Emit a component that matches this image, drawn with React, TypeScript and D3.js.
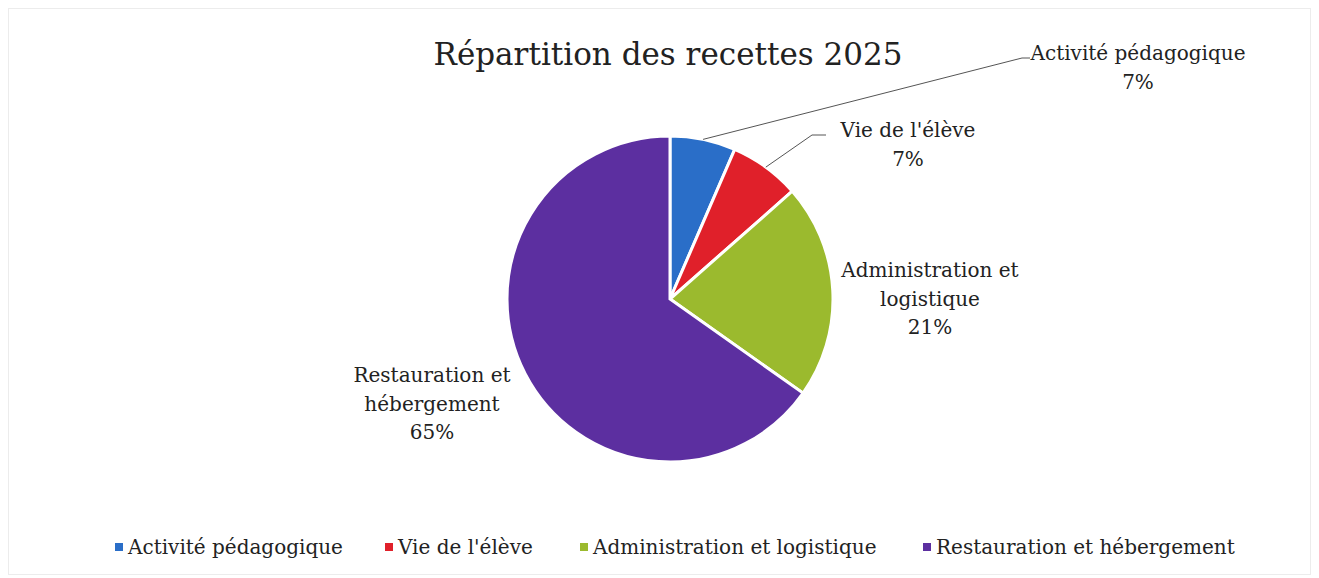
import { useRef, useEffect } from "react";
import * as d3 from "d3";

// Chart data
const categories = [
  "Activité pédagogique",
  "Vie de l'élève",
  "Administration et logistique",
  "Restauration et hébergement",
];
const shares = [6.5, 7.0, 21.3, 65.2];
const colors = ["#2a6ec8", "#e0202a", "#9bba2e", "#5c2fa0"];
const labelLines = [
  ["Activité pédagogique"],
  ["Vie de l'élève"],
  ["Administration et", "logistique"],
  ["Restauration et", "hébergement"],
];

export default function App() {
  const ref = useRef<SVGSVGElement>(null);

  // Chart attributes
  const chartAttr = {
    width: 1319,
    height: 578,
    cx: 670,
    cy: 299,
    radius: 163,
    font: "'DejaVu Serif', serif",
  };

  // where each data label sits (text centre, first line baseline), and leader elbow
  const labelPos = [
    { x: 1138, y: 60, elbow: [1022, 58], end: 1030 },
    { x: 908, y: 137, elbow: [812, 135], end: 826 },
    { x: 930, y: 277, elbow: null, end: 0 },
    { x: 432, y: 382, elbow: null, end: 0 },
  ];

  useEffect(() => {
    const svg = d3.select(ref.current)
      .attr("width", chartAttr.width)
      .attr("height", chartAttr.height);
    svg.selectAll("*").remove();

    const data = categories.map((c, i) => ({ name: c, value: shares[i], i }));

    const pie = d3.pie<any>().sort(null).value(d => d.value);
    const arc = d3.arc<any>().innerRadius(0).outerRadius(chartAttr.radius);
    const edgeArc = d3.arc<any>().innerRadius(chartAttr.radius).outerRadius(chartAttr.radius);
    const arcs = pie(data);

    // faint frame
    svg.append("rect")
      .attr("x", 8.5).attr("y", 8.5)
      .attr("width", chartAttr.width - 17).attr("height", chartAttr.height - 12)
      .attr("fill", "none").attr("stroke", "#ececec");

    // title
    svg.append("text")
      .attr("x", 668).attr("y", 65)
      .attr("text-anchor", "middle")
      .attr("font-family", chartAttr.font)
      .attr("font-size", 31)
      .attr("fill", "#222")
      .text("Répartition des recettes 2025");

    const g = svg.append("g")
      .attr("transform", `translate(${chartAttr.cx},${chartAttr.cy})`);

    g.selectAll("path.slice")
      .data(arcs)
      .enter()
      .append("path")
      .attr("class", "slice")
      .attr("d", arc)
      .attr("fill", d => colors[d.data.i])
      .attr("stroke", "#fff")
      .attr("stroke-width", 3);

    // leader lines
    arcs.forEach((a, i) => {
      const p = labelPos[i];
      if (!p.elbow) return;
      const [sx, sy] = edgeArc.centroid(a);
      const pts: [number, number][] = [
        [sx + chartAttr.cx, sy + chartAttr.cy],
        [p.elbow[0], p.elbow[1]],
        [p.end, p.elbow[1]],
      ];
      svg.append("path")
        .attr("d", d3.line()(pts))
        .attr("fill", "none")
        .attr("stroke", "#555")
        .attr("stroke-width", 1);
    });

    // data labels
    arcs.forEach((a, i) => {
      const p = labelPos[i];
      const lines = [...labelLines[i], `${Math.round(a.data.value)}%`];
      const t = svg.append("text")
        .attr("text-anchor", "middle")
        .attr("font-family", chartAttr.font)
        .attr("font-size", 20)
        .attr("fill", "#222");
      lines.forEach((l, k) => {
        t.append("tspan")
          .attr("x", p.x)
          .attr("y", p.y + k * 28.5)
          .text(l);
      });
    });

    // legend
    const legendX = [115, 385, 580, 923];
    const leg = svg.append("g");
    categories.forEach((c, i) => {
      leg.append("rect")
        .attr("x", legendX[i]).attr("y", 543)
        .attr("width", 8).attr("height", 8)
        .attr("fill", colors[i]);
      leg.append("text")
        .attr("x", legendX[i] + 13).attr("y", 554)
        .attr("font-family", chartAttr.font)
        .attr("font-size", 20)
        .attr("fill", "#222")
        .text(c);
    });
  }, []);

  return (
    <div>
      <svg ref={ref} style={{ position: "absolute", left: 0, top: 0 }} />
    </div>
  );
}
